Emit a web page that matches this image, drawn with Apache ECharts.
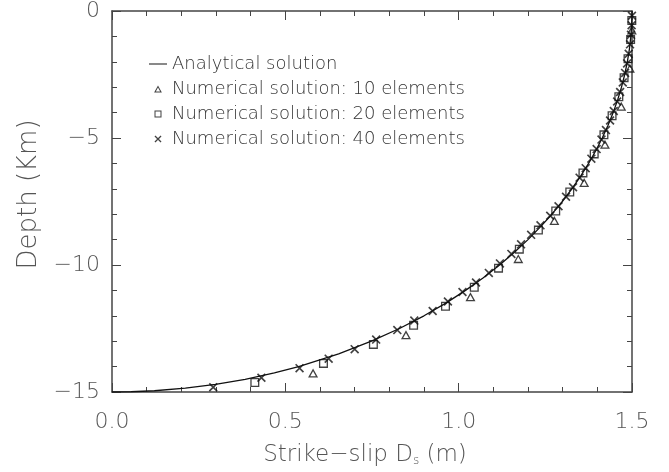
<!DOCTYPE html>
<html>
<head>
<meta charset="utf-8">
<script src="https://cdn.jsdelivr.net/npm/echarts@6/dist/echarts.min.js"></script>
<style>
  html, body { margin: 0; padding: 0; background: #fff; }
  #chart { width: 669px; height: 472px; }
</style>
</head>
<body>
<div id="chart"></div>
<script>
// Analytical slip profile (depth in km, slip in m)
const analyticDepth = [0, -0.5, -1, -1.5, -2, -2.5, -3, -3.5, -4, -4.5, -5, -5.5, -6, -6.5, -7, -7.5,
  -8, -8.5, -9, -9.5, -10, -10.5, -11, -11.5, -12, -12.5, -13, -13.5, -14, -14.25, -14.5,
  -14.7, -14.85, -14.95, -14.99, -15];
const analyticSlip = [1.5, 1.4992, 1.4967, 1.4925, 1.4866, 1.4790, 1.4697, 1.4586, 1.4457, 1.4309,
  1.4142, 1.3955, 1.3748, 1.3518, 1.3266, 1.2990, 1.2689, 1.2359, 1.2, 1.1608, 1.1180, 1.0712,
  1.0198, 0.9631, 0.9, 0.8292, 0.7483, 0.6538, 0.5385, 0.4684, 0.3841, 0.2985, 0.2116, 0.1224,
  0.0548, 0];

// 10-element solution (element centres)
const depth10 = [-0.75, -2.25, -3.75, -5.25, -6.75, -8.25, -9.75, -11.25, -12.75, -14.25];
const slip10 = [1.4995, 1.494, 1.469, 1.422, 1.362, 1.276, 1.172, 1.034, 0.848, 0.580];

// 20-element solution
const depth20 = [-0.375, -1.125, -1.875, -2.625, -3.375, -4.125, -4.875, -5.625, -6.375, -7.125,
  -7.875, -8.625, -9.375, -10.125, -10.875, -11.625, -12.375, -13.125, -13.875, -14.625];
const slip20 = [1.4995, 1.4960, 1.4885, 1.4772, 1.4620, 1.4425, 1.4190, 1.3910, 1.3585, 1.3205,
  1.280, 1.230, 1.175, 1.115, 1.045, 0.962, 0.870, 0.754, 0.610, 0.412];

// 40-element solution
const depth40 = [-0.1875, -0.5625, -0.9375, -1.3125, -1.6875, -2.0625, -2.4375, -2.8125, -3.1875,
  -3.5625, -3.9375, -4.3125, -4.6875, -5.0625, -5.4375, -5.8125, -6.1875, -6.5625, -6.9375,
  -7.3125, -7.6875, -8.0625, -8.4375, -8.8125, -9.1875, -9.5625, -9.9375, -10.3125, -10.6875,
  -11.0625, -11.4375, -11.8125, -12.1875, -12.5625, -12.9375, -13.3125, -13.6875, -14.0625,
  -14.4375, -14.8125];
const slip40 = [1.4999, 1.4989, 1.4971, 1.4943, 1.4905, 1.4858, 1.4801, 1.4734, 1.4657, 1.4571,
  1.4474, 1.4367, 1.4249, 1.4120, 1.3980, 1.3828, 1.3664, 1.3488, 1.3299, 1.3097, 1.2880,
  1.2640, 1.236, 1.209, 1.180, 1.152, 1.119, 1.087, 1.050, 1.011, 0.969, 0.925, 0.872,
  0.823, 0.762, 0.700, 0.625, 0.541, 0.431, 0.292];

const xTicks = { min: 0, max: 1.5, step: 0.5 };
const yTicks = { min: -15, max: 0, step: 5 };

const names = ['Analytical solution', 'Numerical solution: 10 elements',
  'Numerical solution: 20 elements', 'Numerical solution: 40 elements'];

const pairs = (xs, ys) => xs.map((x, i) => [x, ys[i]]);

const FONT = "'DejaVu Sans', sans-serif";
const AXIS = '#444';
const TEXT = '#555';
const MARK = '#111';

// Outline glyphs drawn as filled rings so they stay hollow at any size
const crossPath = 'path://M0,1.3L1.3,0L10,8.7L8.7,10Z M8.7,0L10,1.3L1.3,10L0,8.7Z';
const triPath = 'path://M5,0L10,9L0,9Z M5,2.68L2.21,7.7L7.79,7.7Z';
const rectPath = 'path://M0,0H10V10H0Z M1.45,1.45V8.55H8.55V1.45Z';
const dashPath = 'path://M0,0H20V1.1H0Z';

function axisCommon(extra) {
  return Object.assign({
    type: 'value',
    axisLine: { show: true, onZero: false, lineStyle: { color: AXIS, width: 1.5 } },
    axisTick: { show: true, inside: true, length: 9, lineStyle: { color: AXIS, width: 1 } },
    minorTick: { show: true, splitNumber: 5, length: 5, lineStyle: { color: AXIS, width: 1 } },
    splitLine: { show: false },
    minorSplitLine: { show: false }
  }, extra);
}

const fmtY = v => (v < 0 ? '\u2212' + (-v) : String(v));

const chart = echarts.init(document.getElementById('chart'), null, { renderer: 'canvas' });
chart.setOption({
  backgroundColor: '#fff',
  animation: false,
  grid: { left: 112, right: 37, top: 9, bottom: 73, containLabel: false },
  xAxis: [
    axisCommon({
      min: xTicks.min, max: xTicks.max, interval: xTicks.step, position: 'bottom',
      name: '{a|Strike\u2212slip D}{s|s}{a| (m)}',
      nameLocation: 'middle', nameGap: 51,
      nameTextStyle: {
        padding: [0, 14, 0, 0],
        rich: {
          a: { fontFamily: FONT, fontSize: 23, color: TEXT, fontWeight: 200 },
          s: { fontFamily: FONT, fontSize: 12, color: TEXT, fontWeight: 200, padding: [12, 0, 0, 0] }
        }
      },
      axisLabel: { margin: 19, fontFamily: FONT, fontSize: 22, color: TEXT, fontWeight: 200,
        formatter: v => v.toFixed(1) }
    }),
    axisCommon({
      min: xTicks.min, max: xTicks.max, interval: xTicks.step, position: 'top',
      axisLabel: { show: false }
    })
  ],
  yAxis: [
    axisCommon({
      min: yTicks.min, max: yTicks.max, interval: yTicks.step, position: 'left',
      name: 'Depth (Km)', nameLocation: 'middle', nameGap: 65,
      nameTextStyle: { fontFamily: FONT, fontSize: 26, color: TEXT, fontWeight: 200,
        padding: [0, 0, 0, 14] },
      axisLabel: { margin: 12, fontFamily: FONT, fontSize: 22, color: TEXT, fontWeight: 200,
        padding: [6, 0, 0, 0], formatter: fmtY }
    }),
    axisCommon({
      min: yTicks.min, max: yTicks.max, interval: yTicks.step, position: 'right',
      axisLabel: { show: false }
    })
  ],
  legend: {
    orient: 'vertical', left: 149, top: 54, padding: 0,
    itemWidth: 18, itemHeight: 7, itemGap: 5, symbolKeepAspect: true,
    textStyle: { fontFamily: FONT, fontSize: 18, color: '#333', fontWeight: 200, lineHeight: 20 },
    data: [
      { name: names[0], icon: dashPath, itemStyle: { color: MARK } },
      { name: names[1], icon: triPath },
      { name: names[2], icon: rectPath },
      { name: names[3], icon: crossPath }
    ]
  },
  series: [
    {
      name: names[0], type: 'line', xAxisIndex: 0, yAxisIndex: 0,
      data: pairs(analyticSlip, analyticDepth),
      symbol: 'none', smooth: false, z: 5,
      lineStyle: { color: '#111', width: 1.3 }, itemStyle: { color: '#111' }
    },
    {
      name: names[1], type: 'scatter', clip: false,
      data: pairs(slip10, depth10),
      symbol: triPath, symbolSize: 10, symbolKeepAspect: true, z: 3,
      itemStyle: { color: MARK }
    },
    {
      name: names[2], type: 'scatter', clip: false,
      data: pairs(slip20, depth20),
      symbol: rectPath, symbolSize: 9, symbolKeepAspect: true, z: 3,
      itemStyle: { color: MARK }
    },
    {
      name: names[3], type: 'scatter', clip: false,
      data: pairs(slip40, depth40),
      symbol: crossPath, symbolSize: 9, symbolKeepAspect: true, z: 4,
      itemStyle: { color: MARK }
    }
  ]
});
</script>
</body>
</html>
